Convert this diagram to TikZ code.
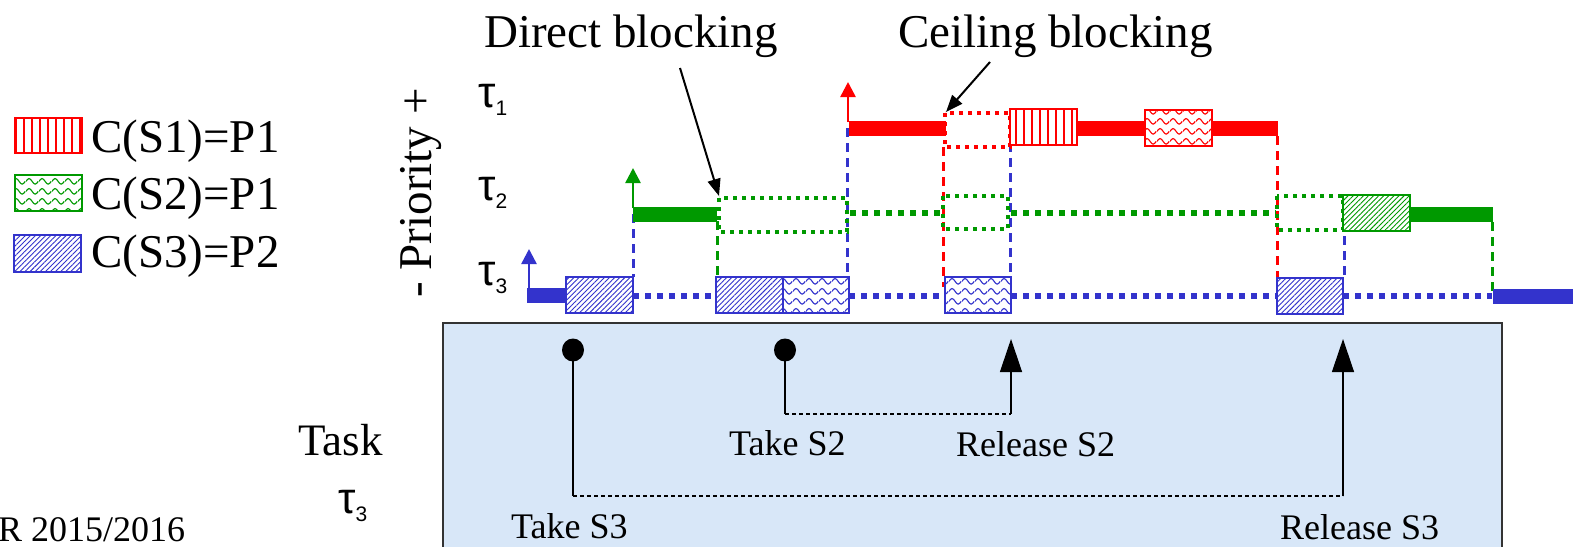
\documentclass[tikz,border=0pt]{standalone}
\usepackage{fontspec}
\setmainfont{Liberation Serif}
\newfontfamily\taufont{Liberation Sans}
\usetikzlibrary{arrows.meta,patterns,patterns.meta,shapes.geometric}

\definecolor{tred}{RGB}{255,0,0}
\definecolor{tgreen}{RGB}{0,153,0}
\definecolor{tblue}{RGB}{51,51,204}
\definecolor{taskbg}{RGB}{216,231,248}

\tikzdeclarepattern{
  name=waves,
  type=uncolored,
  bounding box={(0pt,0pt) and (13pt,10pt)},
  tile size={(13pt,10pt)},
  code={
    \draw[line width=1.2pt] (0pt,5pt) sin (3.25pt,8pt) cos (6.5pt,5pt) sin (9.75pt,2pt) cos (13pt,5pt);
  }
}

\newcommand{\tasklabel}[1]{{\taufont\fontsize{44}{50}\selectfont τ\raisebox{-8pt}{\fontsize{21}{24}\selectfont #1}}}

\tikzset{
  run/.style={line width=15pt},
  wait/.style={line width=5.5pt,dash pattern=on 5.5pt off 6.5pt},
  held/.style={line width=3.8pt,dash pattern=on 4pt off 5pt},
  drop/.style={line width=3pt,dash pattern=on 9pt off 6pt},
  sem/.style={line width=2pt,preaction={fill=white}},
  sone/.style={sem,pattern={Lines[angle=90,distance=8pt,line width=1.6pt]}},
  stwo/.style={sem,pattern=waves},
  sthree/.style={sem,pattern={Lines[angle=45,distance=3.6pt,line width=0.9pt]}},
  wake/.style={line width=2.5pt,-{Triangle[length=15pt,width=15pt]}},
  note/.style={line width=2pt,-{Triangle[length=17pt,width=13pt]}},
  tie/.style={line width=1.2pt,black},
  big/.style={font=\fontsize{47}{56}\selectfont,inner sep=0pt},
  mid/.style={font=\fontsize{45}{54}\selectfont,inner sep=0pt},
  small/.style={font=\fontsize{36}{43}\selectfont,inner sep=0pt},
  dot/.style={ellipse,fill=black,inner sep=0pt,minimum width=22pt,minimum height=23pt},
}

\begin{document}
\begin{tikzpicture}[x=1pt,y=-1pt]
    \useasboundingbox (0,0) rectangle (1573,546);
    %% Legend
    \draw[tred,sone,pattern color=tred] (15,118) rectangle (82,153);
    \draw[tgreen,stwo,pattern color=tgreen] (15,175) rectangle (82,211);
    \draw[tblue,sthree,pattern color=tblue] (14,235) rectangle (81,272);
    \node[big,anchor=base west] (legone) at (91,152) {C(S1)=P1};
    \node[big,anchor=base west] (legtwo) at (91,209) {C(S2)=P1};
    \node[big,anchor=base west] (legthree) at (91,267) {C(S3)=P2};
    %% Axis labels
    \node[big,rotate=90,anchor=base] (prio) at (431,193) {- Priority +};
    \node[inner sep=0pt,anchor=base west] (tone) at (478,107) {\tasklabel{1}};
    \node[inner sep=0pt,anchor=base west] (ttwo) at (478,200) {\tasklabel{2}};
    \node[inner sep=0pt,anchor=base west] (tthree) at (478,285) {\tasklabel{3}};
    \node[big,anchor=base west] (direct) at (484,47) {Direct blocking};
    \node[big,anchor=base west] (ceiling) at (898,47) {Ceiling blocking};

    %% Task box
    \draw[black!80,fill=taskbg,line width=1.5pt] (443,323) rectangle (1502,560);

    %% Dropping lines
    \draw[tblue,drop] (633,214) -- (633,277);
    \draw[tgreen,drop] (717,221) -- (717,296);
    \draw[tblue,drop] (847,128) -- (847,277);
    \draw[tred,drop] (943,147) -- (943,287);
    \draw[tblue,drop] (1010,128) -- (1010,277);
    \draw[tred,drop] (1277,136) -- (1277,284);
    \draw[tblue,drop] (1344,221) -- (1344,280);
    \draw[tgreen,drop] (1492,222) -- (1492,296);

    %% tau3
    \draw[tblue,wake] (529,289) -- (529,249);
    \draw[tblue,run] (527,295) -- (566,295);
    \draw[tblue,wait] (633,296) -- (716,296);
    \draw[tblue,wait] (849,296) -- (945,296);
    \draw[tblue,wait] (1011,296) -- (1277,296);
    \draw[tblue,wait] (1343,296) -- (1492,296);
    \draw[tblue,run] (1493,296) -- (1573,296);
    \draw[tblue,sthree,pattern color=tblue] (566,277) rectangle (633,313);
    \draw[tblue,sthree,pattern color=tblue] (716,277) rectangle (783,313);
    \draw[tblue,stwo,pattern color=tblue] (783,277) rectangle (849,313);
    \draw[tblue,stwo,pattern color=tblue] (945,277) rectangle (1011,313);
    \draw[tblue,sthree,pattern color=tblue] (1277,278) rectangle (1343,314);

    %% tau2
    \draw[tgreen,wake] (633,208) -- (633,168);
    \draw[tgreen,run] (633,214) -- (717,214);
    \draw[tgreen,held] (719,198) rectangle (847,232);
    \draw[tgreen,wait] (850,213) -- (940,213);
    \draw[tgreen,held] (943,196) rectangle (1008,229);
    \draw[tgreen,wait] (1011,213) -- (1276,213);
    \draw[tgreen,held] (1277,196) rectangle (1343,230);
    \draw[tgreen,sthree,pattern color=tgreen] (1343,195) rectangle (1410,231);
    \draw[tgreen,run] (1410,214) -- (1493,214);

    %% tau1
    \draw[tred,wake] (848,122) -- (848,82);
    \draw[tred,run] (849,128) -- (946,128);
    \draw[tred,held] (945,113) rectangle (1010,147);
    \draw[tred,sone,pattern color=tred] (1010,109) rectangle (1077,145);
    \draw[tred,run] (1077,128) -- (1145,128);
    \draw[tred,stwo,pattern color=tred] (1145,110) rectangle (1212,146);
    \draw[tred,run] (1212,128) -- (1278,128);

    %% Blocking notes
    \coordinate (directtip) at (719,196);
    \coordinate (ceilingtip) at (946,112);
    \draw[note] (680,68) -- (directtip);
    \draw[note] (990,62) -- (ceilingtip);

    %% Take and release
    \node[dot] (takethree) at (573,350) {};
    \node[dot] (taketwo) at (785,350) {};
    \coordinate (twobend) at (785,414);
    \coordinate (tworise) at (1011,414);
    \coordinate (twotip) at (1011,339);
    \coordinate (threebend) at (573,496);
    \coordinate (threerise) at (1343,496);
    \coordinate (threetip) at (1343,339);
    \draw[tie] (taketwo.center) -- (twobend);
    \draw[tie,dash pattern=on 4pt off 3pt] (twobend) -- (tworise);
    \draw[tie,-{Triangle[length=33pt,width=22pt]}] (tworise) -- (twotip);
    \draw[tie] (takethree.center) -- (threebend);
    \draw[tie,dash pattern=on 4pt off 3pt] (threebend) -- (threerise);
    \draw[tie,-{Triangle[length=33pt,width=22pt]}] (threerise) -- (threetip);
    \node[small,anchor=base west] (ltaketwo) at (729,455) {Take S2};
    \node[small,anchor=base west] (lreltwo) at (956,456) {Release S2};
    \node[small,anchor=base west] (ltakethree) at (511,538) {Take S3};
    \node[small,anchor=base west] (lrelthree) at (1280,539) {Release S3};
    \node[mid,anchor=base west] (task) at (298,455) {Task};
    \node[inner sep=0pt,anchor=base west] (taskname) at (338,513) {\tasklabel{3}};
    \node[small,anchor=base west] (year) at (-2,541) {R 2015/2016};
\end{tikzpicture}
\end{document}
